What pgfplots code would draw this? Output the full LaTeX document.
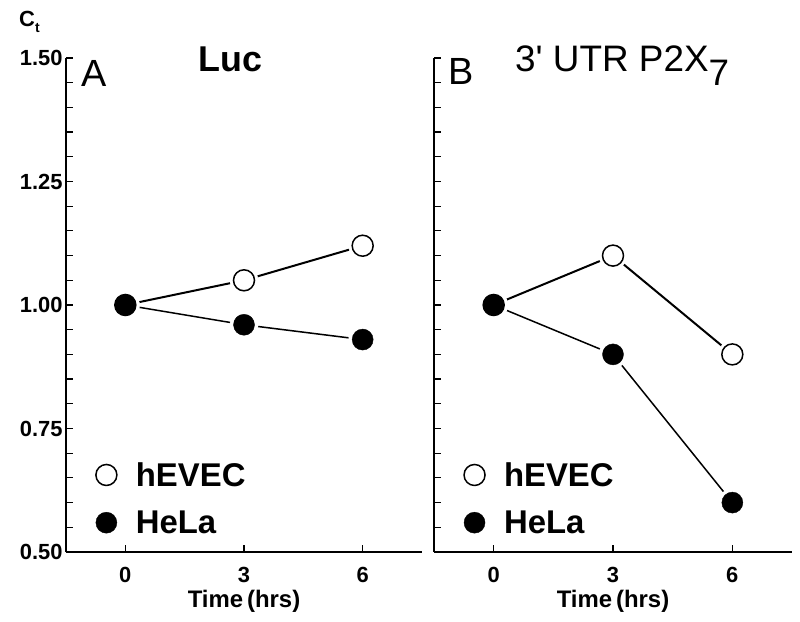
\documentclass[border=0pt]{standalone}
\usepackage{pgfplots}
\pgfplotsset{compat=1.18}
\usepackage{pgfplotstable}
\usepackage{fontspec}
\setmainfont{Liberation Sans}

\pgfplotstableread{
t evec hela
0 1.00 1.00
3 1.05 0.96
6 1.12 0.93
}\luc
\pgfplotstableread{
t evec hela
0 1.00 1.00
3 1.10 0.90
6 0.90 0.60
}\utr

\pgfplotsset{
 panel/.style={
  scale only axis, height=494bp,
  xmin=-1.5, xmax=7.5, ymin=0.5, ymax=1.5,
  axis x line*=bottom, axis y line*=left,
  axis line style={line width=1.8bp},
  xtick={0,3,6}, ytick={0.5,0.75,1,1.25,1.5},
  minor y tick num=4,
  tick align=inside, major tick length=7bp, minor tick length=7bp,
  every tick/.style={line width=1.2bp, black},
  every minor tick/.style={line width=1.2bp, black},
  ticklabel style={font=\bfseries\fontsize{22}{26}\selectfont},
  xticklabel style={yshift=-12bp},
  /pgf/number format/assume math mode=true,
  yticklabel style={/pgf/number format/.cd, fixed, fixed zerofill, precision=2},
  xlabel={Time\,(hrs)},
  xlabel style={at={(axis description cs:0.5,0)}, anchor=base, yshift=-55bp, font=\bfseries\fontsize{24}{28}\selectfont},
  legend style={anchor=north west, draw=none, fill=none, font=\bfseries\fontsize{33}{38}\selectfont, row sep=19bp, cells={anchor=west},
    /tikz/every odd column/.append style={column sep=17bp}},
  clip=false,
 },
 halo/.style={only marks, mark=*, mark size=14bp, white, mark options={draw=white, fill=white}, forget plot},
 open/.style={only marks, mark=*, mark size=10.5bp, black, mark options={fill=white, draw=black, line width=1.5bp}},
 full/.style={only marks, mark=*, mark size=10.5bp, black, mark options={fill=black, draw=black}},
}

\begin{document}
\begin{tikzpicture}
\path[use as bounding box] (0,0) rectangle (800bp,622bp);
\begin{axis}[panel, width=356bp, at={(66bp,70bp)}, anchor=south west,
  legend style={at={(axis description cs:0.075,0.19)}}]
\addplot[line width=2bp, forget plot] table[x=t,y=evec]{\luc};
\addplot[line width=1.5bp, forget plot] table[x=t,y=hela]{\luc};
\addplot[halo] table[x=t,y=evec]{\luc};
\addplot[halo] table[x=t,y=hela]{\luc};
\addplot[open] table[x=t,y=evec]{\luc};
\addplot[full] table[x=t,y=hela]{\luc};
\legend{hEVEC, HeLa}
\end{axis}
\begin{axis}[panel, width=358bp, at={(434bp,70bp)}, anchor=south west, yticklabels={},
  legend style={at={(axis description cs:0.075,0.19)}}]
\addplot[line width=2bp, forget plot] table[x=t,y=evec]{\utr};
\addplot[line width=1.5bp, forget plot] table[x=t,y=hela]{\utr};
\addplot[halo] table[x=t,y=evec]{\utr};
\addplot[halo] table[x=t,y=hela]{\utr};
\addplot[open] table[x=t,y=evec]{\utr};
\addplot[full] table[x=t,y=hela]{\utr};
\legend{hEVEC, HeLa}
\end{axis}
\node[anchor=base west, inner sep=0, font=\bfseries\fontsize{22}{26}\selectfont] at (19bp,595bp) {C\raisebox{-6bp}{\fontsize{14}{16}\selectfont t}};
\node[anchor=base west, inner sep=0, font=\fontsize{38}{40}\selectfont] at (81bp,535bp) {A};
\node[anchor=base west, inner sep=0, font=\bfseries\fontsize{36}{40}\selectfont] at (198bp,550bp) {Luc};
\node[anchor=base west, inner sep=0, font=\fontsize{38}{40}\selectfont] at (448bp,537bp) {B};
\node[anchor=base west, inner sep=0, font=\fontsize{37}{40}\selectfont] at (515bp,550bp) {3\textquotesingle{} UTR P2X\raisebox{-14bp}{7}};
\end{tikzpicture}
\end{document}
